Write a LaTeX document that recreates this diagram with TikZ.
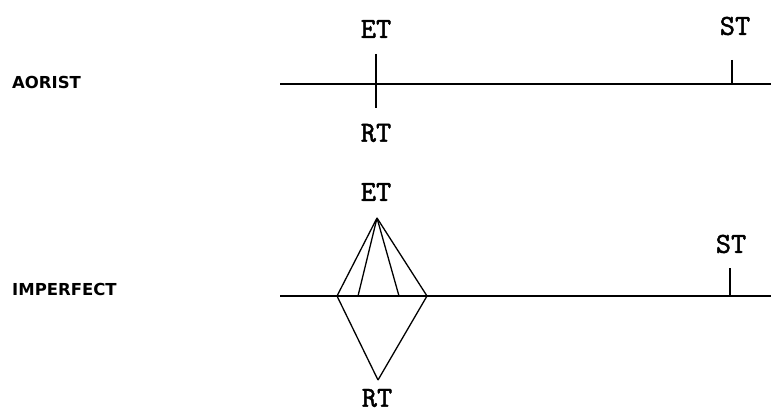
\documentclass[tikz,border=0pt]{standalone}
\usepackage{fontspec}
\newfontfamily\labfont{DejaVu Sans Bold}
\newfontfamily\tfont{lmmono10-regular.otf}[FakeBold=1.6]
\begin{document}
\begin{tikzpicture}[x=1pt,y=-1pt,
  tlabel/.style={font=\tfont\fontsize{29}{29}\selectfont, inner sep=0pt},
  rowlabel/.style={font=\labfont\fontsize{16.5}{17}\selectfont, inner sep=0pt, anchor=west},
  mainline/.style={line width=1.8pt},
  thin/.style={line width=1.3pt}]
\useasboundingbox (0,0) rectangle (771,412);
% AORIST
\node[rowlabel] (aor) at (12,82) {AORIST};
\coordinate (a1) at (280,84);
\coordinate (a2) at (771,84);
\draw[mainline] (a1) -- (a2);
\coordinate (aet) at (376,54);
\coordinate (art) at (376,108);
\draw[mainline] (aet) -- (art);
\coordinate (ast1) at (732,60);
\coordinate (ast2) at (732,84);
\draw[mainline] (ast1) -- (ast2);
\node[tlabel] (aETl) at (376,29) {ET};
\node[tlabel] (aRTl) at (376,133) {RT};
\node[tlabel] (aSTl) at (735,26) {ST};
% IMPERFECT
\node[rowlabel] (imp) at (12,289) {IMPERFECT};
\coordinate (i1) at (280,296);
\coordinate (i2) at (771,296);
\draw[mainline] (i1) -- (i2);
\coordinate (apex) at (377,218);
\coordinate (bot) at (378,380);
\coordinate (f1) at (337,296);
\coordinate (f2) at (358,296);
\coordinate (f3) at (399,296);
\coordinate (f4) at (427,296);
\draw[thin] (apex) -- (f1);
\draw[thin] (apex) -- (f2);
\draw[thin] (apex) -- (f3);
\draw[thin] (apex) -- (f4);
\draw[thin] (f1) -- (bot);
\draw[thin] (f4) -- (bot);
\coordinate (ist1) at (730,268);
\coordinate (ist2) at (730,296);
\draw[mainline] (ist1) -- (ist2);
\node[tlabel] (iETl) at (376,192) {ET};
\node[tlabel] (iRTl) at (377,398) {RT};
\node[tlabel] (iSTl) at (731,244) {ST};
\end{tikzpicture}
\end{document}
